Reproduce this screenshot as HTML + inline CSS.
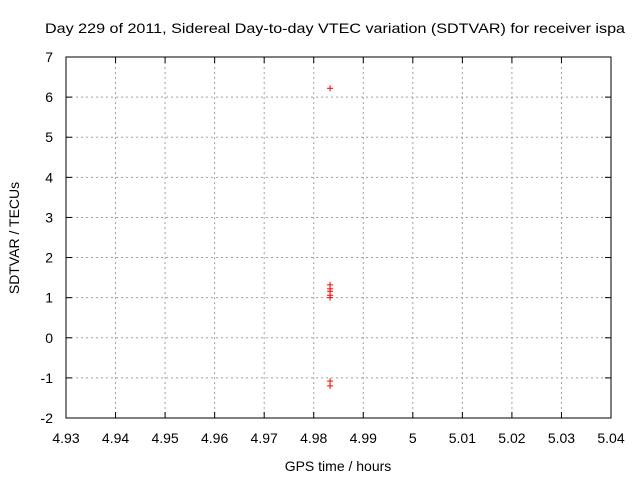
<!DOCTYPE html>
<html><head><meta charset="utf-8"><style>body{margin:0;background:#fff}svg{display:block}text{font-family:"Liberation Sans",sans-serif;font-size:14px;fill:#000}</style></head>
<body>
<svg id="c" width="640" height="480"></svg>
<script>
const xTicks=[4.93,4.94,4.95,4.96,4.97,4.98,4.99,5,5.01,5.02,5.03,5.04];
const yTicks=[-2,-1,0,1,2,3,4,5,6,7];
const xVals=[4.9833,4.9833,4.9833,4.9833,4.9833,4.9833,4.9833,4.9833];
const yVals=[6.22,1.32,1.22,1.16,1.06,1.0,-1.08,-1.2];
const svg=document.getElementById('c');const NS='http://www.w3.org/2000/svg';
const L=66,R=611,T=57,B=418;
const sx=v=>L+(v-4.93)/(0.11)*(R-L);
const sy=v=>B-(v+2)/9*(B-T);
function mk(t,a,p){const e=document.createElementNS(NS,t);for(const k in a)e.setAttribute(k,a[k]);(p||svg).appendChild(e);return e;}
xTicks.forEach((v,i)=>{const x=sx(v);
if(i>0&&i<xTicks.length-1){const g=mk('line',{x1:x,x2:x,y1:T,y2:B,stroke:'#a0a0a0','stroke-dasharray':'2,3'});}
mk('line',{x1:x,x2:x,y1:B,y2:B-6,stroke:'#000'});mk('line',{x1:x,x2:x,y1:T,y2:T+6,stroke:'#000'});
const t=mk('text',{x:x,y:443,'text-anchor':'middle'});t.textContent=String(v);
});
yTicks.forEach((v,i)=>{const y=sy(v);
if(i>0&&i<yTicks.length-1){const g=mk('line',{x1:L,x2:R,y1:y,y2:y,stroke:'#a0a0a0','stroke-dasharray':'2,3'});}
mk('line',{x1:L,x2:L+6,y1:y,y2:y,stroke:'#000'});mk('line',{x1:R,x2:R-6,y1:y,y2:y,stroke:'#000'});
const t=mk('text',{x:53,y:y+5,'text-anchor':'end'});t.textContent=String(v);
});
const fr=mk('rect',{x:L,y:T,width:R-L,height:B-T,fill:'none',stroke:'#000'});

xVals.forEach((xv,i)=>{const x=sx(xv),y=sy(yVals[i]);
const g=mk('g',{stroke:'#f00','stroke-width':1});

mk('line',{x1:x-3,x2:x+3,y1:y,y2:y},g);mk('line',{x1:x,x2:x,y1:y-3,y2:y+3},g);});
let t=mk('text',{x:45,y:33,textLength:580,lengthAdjust:'spacingAndGlyphs'});t.textContent='Day 229 of 2011, Sidereal Day-to-day VTEC variation (SDTVAR) for receiver ispa';

t=mk('text',{x:338,y:471,'text-anchor':'middle'});t.textContent='GPS time / hours';

t=mk('text',{x:19,y:238,'text-anchor':'middle',transform:'rotate(-90 19 238)'});t.textContent='SDTVAR / TECUs';

</script>
</body></html>
